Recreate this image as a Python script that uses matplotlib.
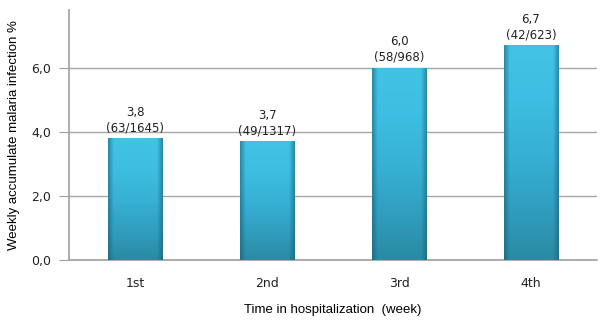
import matplotlib
matplotlib.use("Agg")
import matplotlib.pyplot as plt
import numpy as np
from matplotlib.colors import LinearSegmentedColormap

categories = ["1st", "2nd", "3rd", "4th"]
values = [3.8, 3.7, 6.0, 6.7]
value_labels = ["3,8", "3,7", "6,0", "6,7"]
counts = ["(63/1645)", "(49/1317)", "(58/968)", "(42/623)"]
yticks = [0, 2, 4, 6]
ytick_labels = ["0,0", "2,0", "4,0", "6,0"]

fig = plt.figure(figsize=(6.02, 3.26), dpi=100)
ax = fig.add_axes([69/602, 66/326, 528/602, 250/326])
x = np.arange(len(categories))
ax.set_xlim(-0.5, len(categories) - 0.5)
ax.set_ylim(0, 7.8)

ax.set_yticks(yticks)
ax.set_yticklabels(ytick_labels, fontsize=9, family="DejaVu Sans", color="#222222")
ax.set_xticks(x)
ax.set_xticklabels(categories, fontsize=9, family="DejaVu Sans", color="#222222")
ax.tick_params(axis="x", length=0, pad=12)
ax.tick_params(axis="y", length=7, color="#a0a0a0", pad=6)
ax.yaxis.grid(True, color="#a6a6a6", linewidth=1)
ax.set_axisbelow(True)
for s in ["top", "right"]:
    ax.spines[s].set_visible(False)
for s in ["left", "bottom"]:
    ax.spines[s].set_color("#a0a0a0")
    ax.spines[s].set_linewidth(1.2)

cmap = LinearSegmentedColormap.from_list("b", ["#2a8aa3", "#319fc0", "#37b1d5", "#3dbee2", "#42c3e6"])
edge_cmap = LinearSegmentedColormap.from_list(
    "e", [(0.1, 0.35, 0.45, 0.55), (0.1, 0.35, 0.45, 0.0)])
grad = np.linspace(0, 1, 256).reshape(-1, 1)
hside = np.abs(np.linspace(-1, 1, 64))
hside = np.clip((hside - 0.8) / 0.2, 0, 1)
hside = (1 - hside).reshape(1, -1)
bars = ax.bar(x, values, width=0.41, color="#35b0d2", edgecolor="#2a8aa5", linewidth=0.6, zorder=3)
for i, b in enumerate(bars):
    x0, w, h = b.get_x(), b.get_width(), b.get_height()
    im = ax.imshow(grad, extent=[x0, x0 + w, 0, h], origin="lower", cmap=cmap,
                   aspect="auto", zorder=3.5, interpolation="bicubic")
    im.set_clip_path(b)
    im2 = ax.imshow(hside, extent=[x0, x0 + w, 0, h], origin="lower", cmap=edge_cmap,
                    vmin=0, vmax=1, aspect="auto", zorder=3.6, interpolation="bilinear")
    im2.set_clip_path(b)
    ax.text(x0 + w / 2, h + 0.12, "%s\n%s" % (value_labels[i], counts[i]),
            ha="center", va="bottom", fontsize=8.5, family="DejaVu Sans", color="#222222",
            linespacing=1.25, zorder=5)

ax.set_ylabel("Weekly accumulate malaria infection %", fontsize=9.5, family="Liberation Sans", labelpad=8)
ax.set_xlabel("Time in hospitalization  (week)", fontsize=9.5, family="Liberation Sans", labelpad=10)

fig.savefig("out.png", dpi=100)
